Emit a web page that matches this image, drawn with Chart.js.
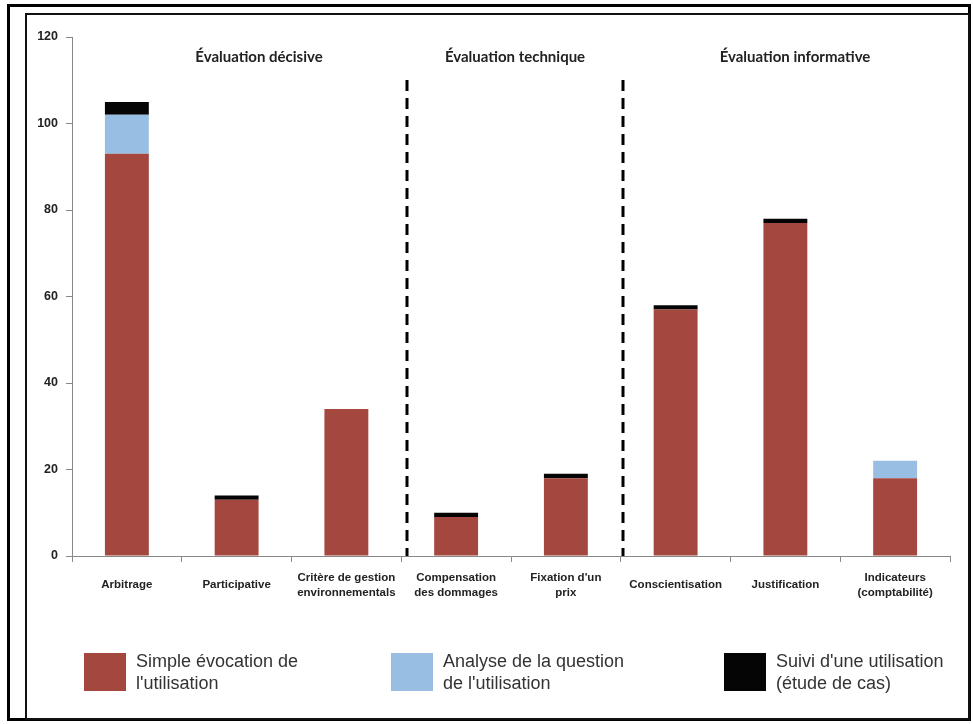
<!DOCTYPE html>
<html lang="fr">
<head>
    <meta charset="UTF-8">
    <title>Évaluation</title>
    <script src="https://cdn.jsdelivr.net/npm/chart.js"></script>
    <style>
        body {
            margin: 0;
            padding: 0;
            background: #fff;
            font-family: "Liberation Sans", Arial, sans-serif;
        }

        .wrap {
            position: relative;
            width: 973px;
            height: 724px;
        }

        .outer {
            position: absolute;
            left: 7px;
            top: 4px;
            width: 964px;
            height: 717px;
            border: 3px solid #000;
            box-sizing: border-box;
        }

        .inner {
            position: absolute;
            left: 25px;
            top: 13px;
            width: 945px;
            height: 707px;
            border: 2px solid #111;
            box-sizing: border-box;
        }

        canvas {
            position: absolute;
            left: 0;
            top: 0;
        }

        .legend-item {
            position: absolute;
            top: 650px;
            display: flex;
            align-items: center;
        }

        .legend-item .box {
            width: 42px;
            height: 38px;
            margin-right: 10px;
        }

        .legend-item .txt {
            font-size: 18px;
            line-height: 22px;
            color: #333;
        }
    </style>
</head>
<body>
    <div class="wrap">
        <div class="outer"></div>
        <div class="inner"></div>
        <canvas id="evalChart" width="973" height="724"></canvas>
        <div id="legend"></div>
    </div>

    <script>
        const categories = [
            'Arbitrage',
            'Participative',
            ['Critère de gestion', 'environnementals'],
            ['Compensation', 'des dommages'],
            ['Fixation d\'un', 'prix'],
            'Conscientisation',
            'Justification',
            ['Indicateurs', '(comptabilité)']
        ];

        const simpleEvocation = [93, 13, 34, 9, 18, 57, 77, 18];
        const analyseQuestion = [9, 0, 0, 0, 0, 0, 0, 4];
        const suiviUtilisation = [3, 1, 0, 1, 1, 1, 1, 0];

        const seriesNames = [
            ['Simple évocation de', 'l\'utilisation'],
            ['Analyse de la question', 'de l\'utilisation'],
            ['Suivi d\'une utilisation', '(étude de cas)']
        ];
        const seriesColors = ['#a4473f', '#98bfe3', '#050505'];

        const yTicks = [0, 20, 40, 60, 80, 100, 120];

        // group titles and the dashed separators between them
        const groupTitles = ['Évaluation décisive', 'Évaluation technique', 'Évaluation informative'];
        const groupTitleX = [259, 515, 795];
        const separators = [2.55, 4.52];

        const groupPlugin = {
            id: 'groups',
            afterDatasetsDraw(chart) {
                const ctx = chart.ctx;
                const x = chart.scales.x;
                const y = chart.scales.y;
                ctx.save();
                ctx.strokeStyle = '#000';
                ctx.lineWidth = 3;
                ctx.setLineDash([11, 7]);
                separators.forEach(v => {
                    const px = Math.round(x.getPixelForValue(v));
                    ctx.beginPath();
                    ctx.moveTo(px, 80);
                    ctx.lineTo(px, y.getPixelForValue(0));
                    ctx.stroke();
                });
                ctx.setLineDash([]);
                ctx.fillStyle = '#222';
                ctx.font = 'bold 15px Lato, sans-serif';
                ctx.textAlign = 'center';
                ctx.textBaseline = 'middle';
                groupTitles.forEach((t, i) => {
                    ctx.fillText(t, groupTitleX[i], 57);
                });
                ctx.restore();
            }
        };

        const ctx = document.getElementById('evalChart').getContext('2d');

        new Chart(ctx, {
            type: 'bar',
            data: {
                labels: categories,
                datasets: [
                    { label: 'Simple évocation de l\'utilisation', data: simpleEvocation, backgroundColor: seriesColors[0] },
                    { label: 'Analyse de la question de l\'utilisation', data: analyseQuestion, backgroundColor: seriesColors[1] },
                    { label: 'Suivi d\'une utilisation (étude de cas)', data: suiviUtilisation, backgroundColor: seriesColors[2] }
                ]
            },
            options: {
                responsive: false,
                animation: false,
                layout: { padding: { top: 37, right: 23, bottom: 98, left: 0 } },
                datasets: {
                    bar: { barPercentage: 0.4, categoryPercentage: 1 }
                },
                plugins: {
                    legend: { display: false },
                    tooltip: { enabled: false }
                },
                scales: {
                    x: {
                        stacked: true,
                        afterFit(scale) { scale.height = 70; },
                        border: { color: '#888', width: 1 },
                        grid: { drawOnChartArea: false, color: '#888', tickLength: 6 },
                        ticks: {
                            color: '#222',
                            crossAlign: 'center',
                            padding: 16,
                            maxRotation: 0,
                            autoSkip: false,
                            font: { family: '"Liberation Sans", Arial', size: 11.5, weight: 'bold', lineHeight: 1.25 }
                        }
                    },
                    y: {
                        stacked: true,
                        min: 0,
                        max: 120,
                        afterFit(scale) { scale.width = 72; },
                        afterBuildTicks(scale) { scale.ticks = yTicks.map(v => ({ value: v })); },
                        border: { color: '#888', width: 1 },
                        grid: { drawOnChartArea: false, color: '#888', tickLength: 6 },
                        ticks: {
                            color: '#222',
                            padding: 8,
                            font: { family: '"Liberation Sans", Arial', size: 12.5, weight: 'bold' }
                        }
                    }
                }
            },
            plugins: [groupPlugin]
        });

        // legend under the chart
        const legendX = [84, 391, 724];
        const legend = document.getElementById('legend');
        seriesNames.forEach((name, i) => {
            const item = document.createElement('div');
            item.className = 'legend-item';
            item.style.left = legendX[i] + 'px';
            const box = document.createElement('div');
            box.className = 'box';
            box.style.background = seriesColors[i];
            const txt = document.createElement('div');
            txt.className = 'txt';
            txt.innerHTML = name.join('<br>');
            item.appendChild(box);
            item.appendChild(txt);
            legend.appendChild(item);
        });
    </script>
</body>
</html>
